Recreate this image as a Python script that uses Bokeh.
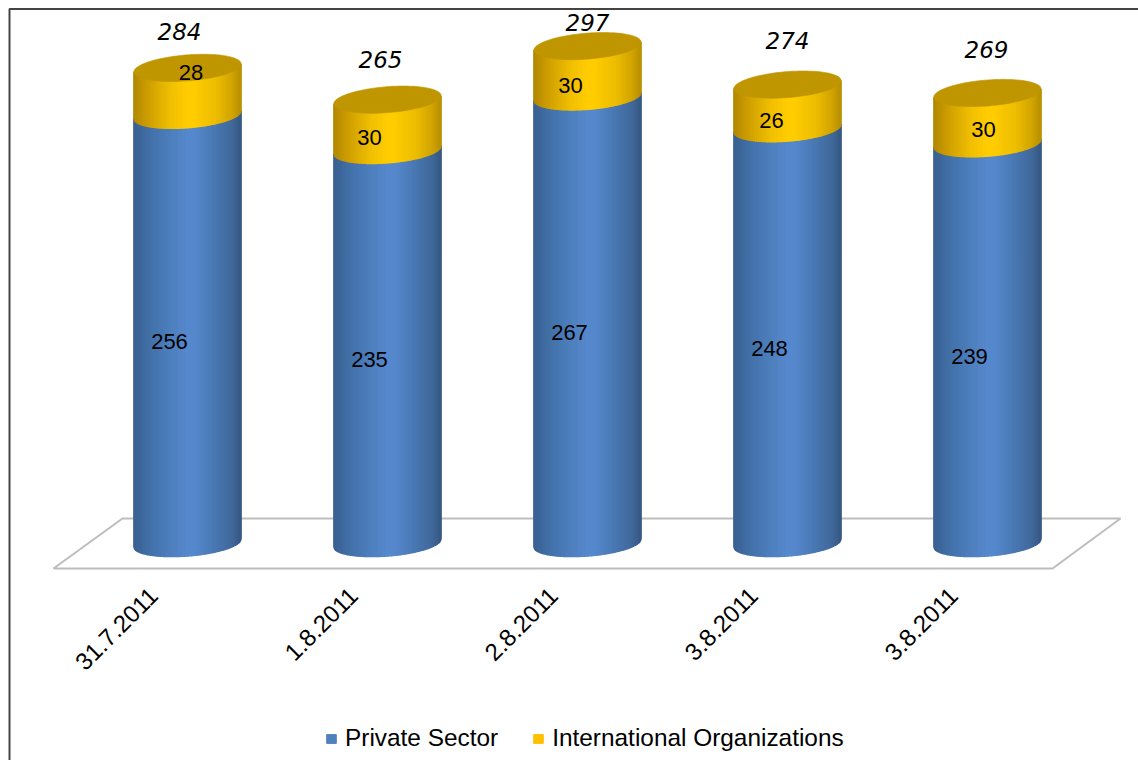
import numpy as np
from bokeh.plotting import figure
from bokeh.models import Range1d, Legend, LegendItem
from bokeh.core.properties import value
from bokeh.embed import file_html
from bokeh.resources import INLINE

dates = ["31.7.2011", "1.8.2011", "2.8.2011", "3.8.2011", "3.8.2011"]
private_sector = [256, 235, 267, 248, 239]
intl_orgs = [28, 30, 30, 26, 30]
totals = [284, 265, 297, 274, 269]

W, H = 1138, 760
PX_X = 200.0      # pixels per category
PX_Y = 1.673      # pixels per unit
X0, Y0 = 187.0, 542.5   # page position of first bar / of value 0
R, ELL_H, TILT = 53.6, 13.0, 4.0

x_range = Range1d(-X0 / PX_X, (W - X0) / PX_X)
y_range = Range1d((Y0 - H) / PX_Y, Y0 / PX_Y)
p = figure(width=W, height=H, x_range=x_range, y_range=y_range, toolbar_location=None,
           output_backend="svg", min_border=0, outline_line_color=None)
p.axis.visible = False
p.grid.visible = False
p.background_fill_color = "white"

# page frame (left and top only)
bx = np.array([9, 9, W], float)
by = np.array([H, 8.5, 8.5], float)
p.line((bx - X0) / PX_X, (Y0 - by) / PX_Y, line_color="#444444", line_width=2)

# floor of the 3D chart
fx = np.array([53, 1052, 1120, 122], float)
fy = np.array([568, 568, 518, 518], float)
p.patch((fx - X0) / PX_X, (Y0 - fy) / PX_Y, fill_color="white", line_color="#BDBDBD", line_width=2)

u_stops = [-1.0, -0.7, -0.3, 0.0, 0.15, 0.55, 0.85, 1.0]
def shade(stops):
    arr = np.array(stops, float)
    def f(u):
        return [int(round(np.interp(u, u_stops, arr[:, k]))) for k in range(3)]
    return f
blue = shade([(0x38,0x5F,0x90),(0x42,0x70,0xA8),(0x4D,0x7F,0xBE),(0x55,0x88,0xCC),(0x55,0x88,0xCC),(0x48,0x76,0xB0),(0x40,0x68,0x9A),(0x36,0x58,0x82)])
gold = shade([(0xB0,0x88,0x00),(0xD0,0xA0,0x00),(0xF0,0xBF,0x00),(0xFF,0xCC,0x00),(0xFF,0xCC,0x00),(0xEC,0xBC,0x00),(0xD0,0xA4,0x00),(0xB8,0x90,0x00)])

us = np.linspace(-1, 1, 55)
xs_out, ys_out, cols = [], [], []
def add_section(i, v0, v1, shader):
    for a, b in zip(us[:-1], us[1:]):
        ua = np.linspace(a, b, 3)
        lo = lambda y, u: y + (TILT * u - ELL_H * np.sqrt(np.clip(1 - u**2, 0, 1))) / PX_Y
        xs = i + ua * R / PX_X
        xs_out.append(list(xs) + list(xs[::-1]))
        ys_out.append(list(lo(v0, ua)) + list(lo(v1, ua)[::-1]))
        c = shader((a + b) / 2)
        cols.append("#%02x%02x%02x" % tuple(c))

for i, (a, b) in enumerate(zip(private_sector, intl_orgs)):
    add_section(i, 0, a, blue)
    add_section(i, a, a + b, gold)
p.patches(xs_out, ys_out, fill_color=cols, line_color=cols, line_width=1.5)

# top ellipses
t = np.linspace(0, 2 * np.pi, 90)
tx, ty = [], []
for i, tot in enumerate(totals):
    c, s = np.cos(t), np.sin(t)
    tx.append(list(i + R * c / PX_X))
    ty.append(list(tot + (TILT * c + ELL_H * s) / PX_Y))
p.patches(tx, ty, fill_color="#BF9500", line_color="#BF9500", line_width=0.6)

idx = list(range(5))
font = value("Liberation Sans")

# value labels
p.text(idx, [v / 2 for v in private_sector], text=[str(v) for v in private_sector],
       x_offset=-18, y_offset=13, text_font=font, text_font_size="22px", text_color="black",
       text_align="center", text_baseline="middle")
mid = [a + b / 2 for a, b in zip(private_sector, intl_orgs)]
p.text(idx, mid, text=[str(v) for v in intl_orgs],
       x_offset=[3.5, -18, -17, -16, -4], y_offset=[-19, 13, 14, 14, 11],
       text_font=font, text_font_size="22px", text_color="black",
       text_align="center", text_baseline="middle")
p.text(idx, totals, text=[str(v) for v in totals],
       x_offset=[-8, -7, 0, 0, -1], y_offset=[-36, -40, -24, -44, -43],
       text_font=value("DejaVu Sans"), text_font_style="italic", text_font_size="23px",
       text_color="black", text_align="center", text_baseline="middle")

# date labels
p.text(idx, [(Y0 - 568) / PX_Y] * 5, text=dates, angle=np.pi / 4, x_offset=-34, y_offset=23,
       text_font=font, text_font_size="24px", text_color="black",
       text_align="right", text_baseline="middle")

# legend
nan = [float("nan")]
r1 = p.quad(left=nan, right=nan, top=nan, bottom=nan, fill_color="#4F81BD", line_color="#4F81BD")
r2 = p.quad(left=nan, right=nan, top=nan, bottom=nan, fill_color="#FFC000", line_color="#FFC000")
legend = Legend(items=[LegendItem(label="Private Sector", renderers=[r1], index=0),
                       LegendItem(label="International Organizations", renderers=[r2], index=0)],
                orientation="horizontal", location=(325, 8), border_line_color=None,
                background_fill_alpha=0, label_text_font="Liberation Sans",
                label_text_font_size="24.4px", label_text_color="black",
                glyph_width=12, glyph_height=11, spacing=34, padding=4, margin=0, label_standoff=8)
p.add_layout(legend)

open("out.html", "w").write(file_html(p, INLINE))
